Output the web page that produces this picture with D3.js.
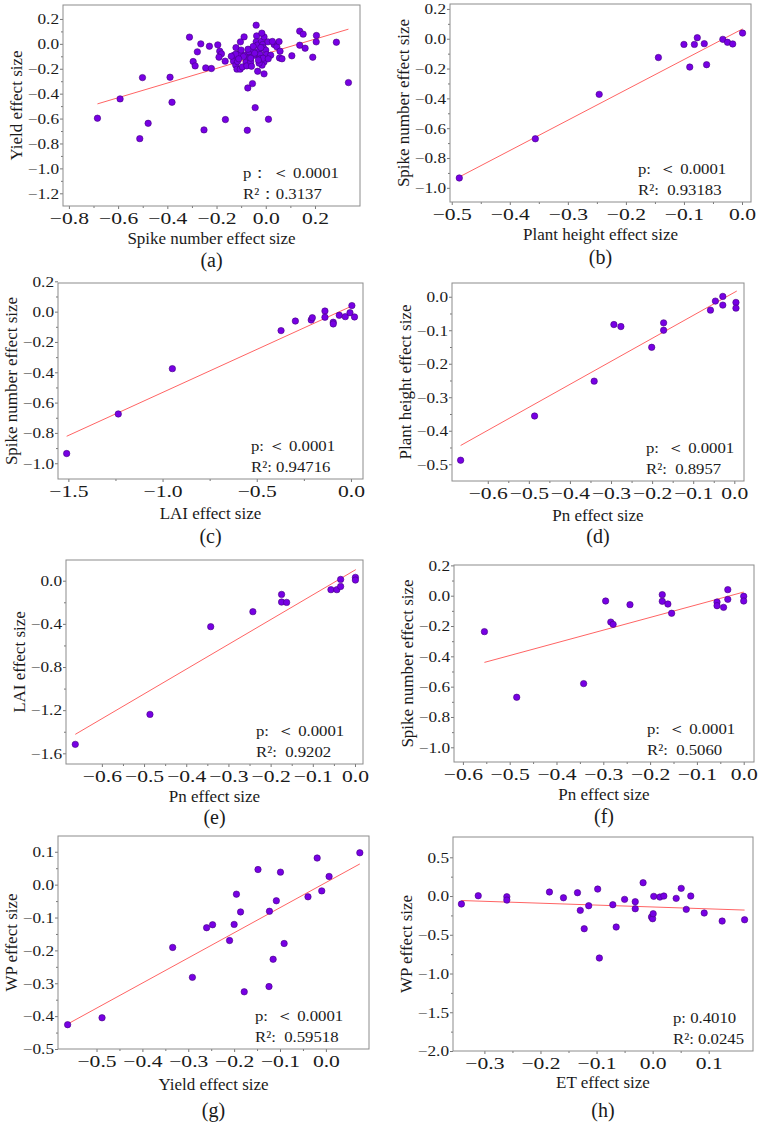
<!DOCTYPE html>
<html>
<head>
<meta charset="utf-8">
<script src="https://cdn.jsdelivr.net/npm/d3@7"></script>
<style>
  body { margin: 0; background: #fff; }
  text { font-family: "Liberation Serif", "Times New Roman", serif; }
</style>
</head>
<body>
<div id="chart"></div>
<script>
// ---- data ----
// (a) spike number vs yield
var aX = [-0.684,-0.592,-0.501,-0.512,-0.478,-0.389,-0.381,-0.310,-0.295,-0.287,-0.278,-0.264,-0.251,-0.244,-0.229,-0.221,
  -0.195,-0.187,-0.180,-0.190,-0.164,-0.165,-0.129,-0.131,-0.121,-0.122,-0.117,-0.104,-0.095,-0.107,-0.100,-0.103,-0.088,
  -0.084,-0.080,-0.077,-0.068,-0.065,-0.061,-0.054,-0.048,-0.039,-0.037,-0.039,-0.034,-0.028,-0.023,-0.020,-0.017,-0.012,
  -0.007,-0.009,0.000,0.003,0.009,-0.007,-0.015,-0.033,-0.007,0.020,0.034,0.045,0.054,0.058,0.056,0.066,0.106,0.138,0.138,
  0.152,0.160,0.191,0.205,0.206,0.287,0.336,-0.054,-0.073,-0.043,-0.075,0.011,-0.122,-0.115,-0.091,-0.072,-0.061,-0.051,
  -0.045,-0.027,-0.016,-0.011,0.027,-0.140,-0.110,-0.058,-0.030,-0.020,0.010];
var aY = [-0.597,-0.442,-0.271,-0.761,-0.638,-0.268,-0.469,0.054,-0.142,-0.177,-0.064,0.000,-0.691,-0.193,-0.019,-0.198,
  -0.008,-0.059,-0.080,-0.107,-0.608,-0.139,-0.091,-0.139,-0.030,-0.171,-0.203,-0.203,-0.185,-0.078,-0.050,0.016,0.056,
  -0.091,-0.145,-0.177,-0.064,-0.113,-0.145,-0.043,-0.091,0.150,0.064,0.016,-0.010,-0.059,-0.086,-0.118,0.022,-0.005,
  0.056,-0.032,-0.051,-0.086,0.016,-0.145,-0.171,-0.220,-0.241,-0.091,-0.005,-0.024,0.018,-0.059,-0.113,-0.120,-0.096,0.102,-0.011,
  0.078,-0.035,-0.107,0.016,0.067,0.013,-0.311,-0.319,-0.354,-0.512,-0.694,-0.605,-0.083,-0.142,-0.102,-0.043,-0.115,-0.021,
  -0.075,-0.155,0.086,-0.115,0.019,-0.100,-0.120,-0.180,-0.130,-0.030,-0.120];
var aFitX = [-0.684, 0.336], aFitY = [-0.482, 0.118];

// (b) plant height vs spike number
var bX = [-0.487,-0.356,-0.246,-0.144,-0.100,-0.090,-0.082,-0.077,-0.065,-0.061,-0.033,-0.025,-0.016,0.001];
var bY = [-0.934,-0.671,-0.373,-0.126,-0.038,-0.190,-0.038,0.007,-0.033,-0.174,-0.004,-0.024,-0.035,0.038];
var bFitX = [-0.487, 0.001], bFitY = [-0.927, 0.066];

// (c) LAI vs spike number
var cX = [-1.509,-1.235,-0.948,-0.371,-0.295,-0.211,-0.205,-0.138,-0.138,-0.094,-0.094,-0.062,-0.030,-0.005,0.005,0.019];
var cY = [-0.936,-0.675,-0.376,-0.125,-0.062,-0.055,-0.040,0.004,-0.037,-0.070,-0.081,-0.024,-0.033,-0.007,0.040,-0.035];
var cFitX = [-1.509, 0.010], cFitY = [-0.822, 0.040];

// (d) Pn vs plant height
var dX = [-0.666,-0.486,-0.341,-0.293,-0.276,-0.201,-0.172,-0.172,-0.058,-0.046,-0.028,-0.028,0.004,0.004];
var dY = [-0.488,-0.356,-0.252,-0.083,-0.089,-0.151,-0.078,-0.100,-0.040,-0.013,0.001,-0.025,-0.017,-0.034];
var dFitX = [-0.666, 0.006], dFitY = [-0.444, 0.017];

// (e) Pn vs LAI
var eX = [-0.663,-0.486,-0.342,-0.242,-0.174,-0.174,-0.162,-0.057,-0.043,-0.034,-0.034,0.001,0.001];
var eY = [-1.517,-1.239,-0.426,-0.287,-0.127,-0.198,-0.201,-0.083,-0.083,0.012,-0.053,0.031,0.006];
var eFitX = [-0.663, 0.002], eFitY = [-1.424, 0.103];

// (f) Pn vs spike number
var fX = [-0.554,-0.485,-0.342,-0.295,-0.284,-0.279,-0.243,-0.174,-0.174,-0.162,-0.154,-0.057,-0.057,-0.043,-0.034,-0.034,0.000,0.000];
var fY = [-0.237,-0.670,-0.580,-0.035,-0.174,-0.189,-0.059,0.007,-0.037,-0.055,-0.116,-0.042,-0.066,-0.077,0.040,-0.024,-0.004,-0.035];
var fFitX = [-0.554, 0.000], fFitY = [-0.440, 0.024];

// (g) yield vs WP
var gX = [-0.563,-0.488,-0.334,-0.291,-0.260,-0.247,-0.210,-0.200,-0.195,-0.186,-0.178,-0.148,-0.123,-0.124,-0.115,-0.108,
  -0.099,-0.091,-0.039,-0.019,-0.009,0.007,0.074];
var gY = [-0.426,-0.405,-0.191,-0.282,-0.131,-0.122,-0.170,-0.121,-0.029,-0.083,-0.326,0.046,-0.081,-0.310,-0.227,-0.049,
  0.038,-0.179,-0.037,0.081,-0.019,0.025,0.097];
var gFitX = [-0.563, 0.074], gFitY = [-0.424, 0.063];

// (h) ET vs WP
var hX = [-0.341,-0.311,-0.260,-0.260,-0.184,-0.159,-0.134,-0.129,-0.122,-0.114,-0.098,-0.095,-0.071,-0.065,-0.050,-0.031,
  -0.031,-0.017,-0.002,0.000,0.001,0.002,0.013,0.020,0.042,0.051,0.060,0.068,0.092,0.124,0.164];
var hY = [-0.103,0.004,-0.009,-0.052,0.052,-0.022,0.043,-0.185,-0.422,-0.125,0.090,-0.800,-0.112,-0.400,-0.043,-0.073,
  -0.164,0.172,-0.271,-0.293,-0.228,-0.004,-0.013,0.000,-0.030,0.099,-0.172,0.000,-0.219,-0.323,-0.306];
var hFitX = [-0.341, 0.164], hFitY = [-0.058, -0.181];

// tick labels
var aXTicks = [-0.8,-0.6,-0.4,-0.2,0.0,0.2], aYTicks = [-1.2,-1.0,-0.8,-0.6,-0.4,-0.2,0.0,0.2];
var bXTicks = [-0.5,-0.4,-0.3,-0.2,-0.1,0.0], bYTicks = [-1.0,-0.8,-0.6,-0.4,-0.2,0.0,0.2];
var cXTicks = [-1.5,-1.0,-0.5,0.0], cYTicks = [-1.0,-0.8,-0.6,-0.4,-0.2,0.0,0.2];
var dXTicks = [-0.6,-0.5,-0.4,-0.3,-0.2,-0.1,0.0], dYTicks = [-0.5,-0.4,-0.3,-0.2,-0.1,0.0];
var eXTicks = [-0.6,-0.5,-0.4,-0.3,-0.2,-0.1,0.0], eYTicks = [-1.6,-1.2,-0.8,-0.4,0.0];
var fXTicks = [-0.6,-0.5,-0.4,-0.3,-0.2,-0.1,0.0], fYTicks = [-1.0,-0.8,-0.6,-0.4,-0.2,0.0,0.2];
var gXTicks = [-0.5,-0.4,-0.3,-0.2,-0.1,0.0], gYTicks = [-0.5,-0.4,-0.3,-0.2,-0.1,0.0,0.1];
var hXTicks = [-0.3,-0.2,-0.1,0.0,0.1], hYTicks = [-2.0,-1.5,-1.0,-0.5,0.0,0.5];

var xTitles = ["Spike number effect size","Plant height effect size","LAI effect size","Pn effect size",
  "Pn effect size","Pn effect size","Yield effect size","ET effect size"];
var yTitles = ["Yield effect size","Spike number effect size","Spike number effect size","Plant height effect size",
  "LAI effect size","Spike number effect size","WP effect size","WP effect size"];
var tags = ["(a)","(b)","(c)","(d)","(e)","(f)","(g)","(h)"];
var pTexts = ["p\uFF1A \uFF1C 0.0001","p:  \uFF1C 0.0001","p: \uFF1C 0.0001","p:  \uFF1C 0.0001",
  "p:  \uFF1C 0.0001","p:  \uFF1C 0.0001","p:  \uFF1C 0.0001","p: 0.4010"];
var r2Texts = ["R\u00B2\uFF1A0.3137","R\u00B2:  0.93183","R\u00B2: 0.94716","R\u00B2:  0.8957",
  "R\u00B2:  0.9202","R\u00B2:  0.5060","R\u00B2:  0.59518","R\u00B2: 0.0245"];

// ---- layout of each panel (frame in px, axis domains, text offsets) ----
var panels = [
  {xs:aX, ys:aY, fx:aFitX, fy:aFitY, xt:aXTicks, yt:aYTicks, box:[63,5,360,206],   xd:[-0.824,0.383], yd:[-1.302,0.312], sdx:117, tdy:38, gdy:61},
  {xs:bX, ys:bY, fx:bFitX, fy:bFitY, xt:bXTicks, yt:bYTicks, box:[450,4,751,202],  xd:[-0.503,0.0155], yd:[-1.095,0.233], sdx:113, tdy:38, gdy:62},
  {xs:cX, ys:cY, fx:cFitX, fy:cFitY, xt:cXTicks, yt:cYTicks, box:[58,283,363,479], xd:[-1.555,0.064], yd:[-1.104,0.189], sdx:112, tdy:40, gdy:64},
  {xs:dX, ys:dY, fx:dFitX, fy:dFitY, xt:dXTicks, yt:dYTicks, box:[452,283,744,481],xd:[-0.687,0.0236], yd:[-0.550,0.041], sdx:98, tdy:40, gdy:62},
  {xs:eX, ys:eY, fx:eFitX, fy:eFitY, xt:eXTicks, yt:eYTicks, box:[66,560,363,764], xd:[-0.685,0.019], yd:[-1.699,0.192], sdx:107, tdy:38, gdy:60},
  {xs:fX, ys:fY, fx:fFitX, fy:fFitY, xt:fXTicks, yt:fYTicks, box:[454,565,754,762],xd:[-0.619,0.022], yd:[-1.097,0.2025], sdx:107, tdy:38, gdy:61},
  {xs:gX, ys:gY, fx:gFitX, fy:gFitY, xt:gXTicks, yt:gYTicks, box:[58,836,369,1049],xd:[-0.584,0.094], yd:[-0.5,0.148], sdx:114, tdy:41, gdy:68},
  {xs:hX, ys:hY, fx:hFitX, fy:hFitY, xt:hXTicks, yt:hYTicks, box:[453,837,753,1051],xd:[-0.356,0.179], yd:[-2.0,0.762], sdx:80, tdy:37, gdy:66}
];

var svg = d3.select("#chart").append("svg")
  .attr("width", 773)
  .attr("height", 1122);
svg.append("rect").attr("width", 773).attr("height", 1122).attr("fill", "#fff");

var fmt = d3.format(".1f");
var xStretch = 1.35, yStretch = 1.15;   // tick labels in the figure are drawn wide
function mids(t) { return t.slice(1).map(function (v, i) { return (v + t[i]) / 2; }); }
function tidy(sel) {
  sel.select(".domain").remove();
  sel.selectAll("line").attr("stroke", "#777");
}

panels.forEach(function (p, k) {
  var x0 = p.box[0], y0 = p.box[1], x1 = p.box[2], y1 = p.box[3];
  var x = d3.scaleLinear().domain(p.xd).range([x0, x1]);
  var y = d3.scaleLinear().domain(p.yd).range([y1, y0]);
  var g = svg.append("g");

  // axis titles and panel tag
  g.append("text")
    .attr("x", (x0 + x1) / 2).attr("y", y1 + p.tdy)
    .attr("text-anchor", "middle")
    .attr("font-size", 17)
    .attr("fill", "#1a1a1a")
    .text(xTitles[k]);
  g.append("text")
    .attr("transform", "translate(" + (x0 - 41) + "," + ((y0 + y1) / 2) + ") rotate(-90)")
    .attr("text-anchor", "middle")
    .attr("font-size", 17)
    .attr("fill", "#1a1a1a")
    .text(yTitles[k]);
  g.append("text")
    .attr("x", (x0 + x1) / 2).attr("y", y1 + p.gdy)
    .attr("text-anchor", "middle")
    .attr("font-size", 20)
    .attr("fill", "#1a1a1a")
    .text(tags[k]);

  // minor ticks
  g.append("g").attr("transform", "translate(0," + y1 + ")")
    .call(d3.axisBottom(x).tickValues(mids(p.xt)).tickSize(2).tickFormat(""))
    .call(tidy);
  g.append("g").attr("transform", "translate(" + x0 + ",0)")
    .call(d3.axisLeft(y).tickValues(mids(p.yt)).tickSize(2).tickFormat(""))
    .call(tidy);

  // major ticks
  var xa = g.append("g").attr("transform", "translate(0," + y1 + ")")
    .call(d3.axisBottom(x).tickValues(p.xt).tickFormat(fmt).tickSize(3).tickPadding(4))
    .call(tidy);
  xa.selectAll("text")
    .attr("font-family", "Liberation Serif, serif")
    .attr("font-size", 16)
    .attr("fill", "#1a1a1a")
    .attr("transform", "scale(" + xStretch + ",1)");

  var ya = g.append("g").attr("transform", "translate(" + x0 + ",0)")
    .call(d3.axisLeft(y).tickValues(p.yt).tickFormat(fmt).tickSize(3).tickPadding(1))
    .call(tidy);
  ya.selectAll("text")
    .attr("font-family", "Liberation Serif, serif")
    .attr("font-size", 15)
    .attr("fill", "#1a1a1a")
    .attr("x", -4 / yStretch)
    .attr("transform", "scale(" + yStretch + ",1)");

  // frame
  g.append("rect")
    .attr("x", x0).attr("y", y0)
    .attr("width", x1 - x0).attr("height", y1 - y0)
    .attr("fill", "none")
    .attr("stroke", "#8c8c8c")
    .attr("stroke-width", 1);

  // fitted line
  g.append("line")
    .attr("x1", x(p.fx[0])).attr("y1", y(p.fy[0]))
    .attr("x2", x(p.fx[1])).attr("y2", y(p.fy[1]))
    .attr("stroke", "#ff6464")
    .attr("stroke-width", 1);

  // points
  g.selectAll("circle")
    .data(p.xs.map(function (v, i) { return [v, p.ys[i]]; }))
    .enter()
      .append("circle")
        .attr("cx", function (d) { return x(d[0]); })
        .attr("cy", function (d) { return y(d[1]); })
        .attr("r", 3.2)
        .attr("fill", "#7700e4")
        .attr("stroke", "#45007f")
        .attr("stroke-width", 0.6);

  // stats
  [pTexts[k], r2Texts[k]].forEach(function (s, j) {
    g.append("text")
      .attr("transform", "translate(" + (x1 - p.sdx) + "," + (y1 - 28 + j * 21) + ") scale(1.08,1)")
      .attr("font-size", 15.5)
      .attr("fill", "#1a1a1a")
      .style("white-space", "pre")
      .text(s);
  });
});
</script>
</body>
</html>
